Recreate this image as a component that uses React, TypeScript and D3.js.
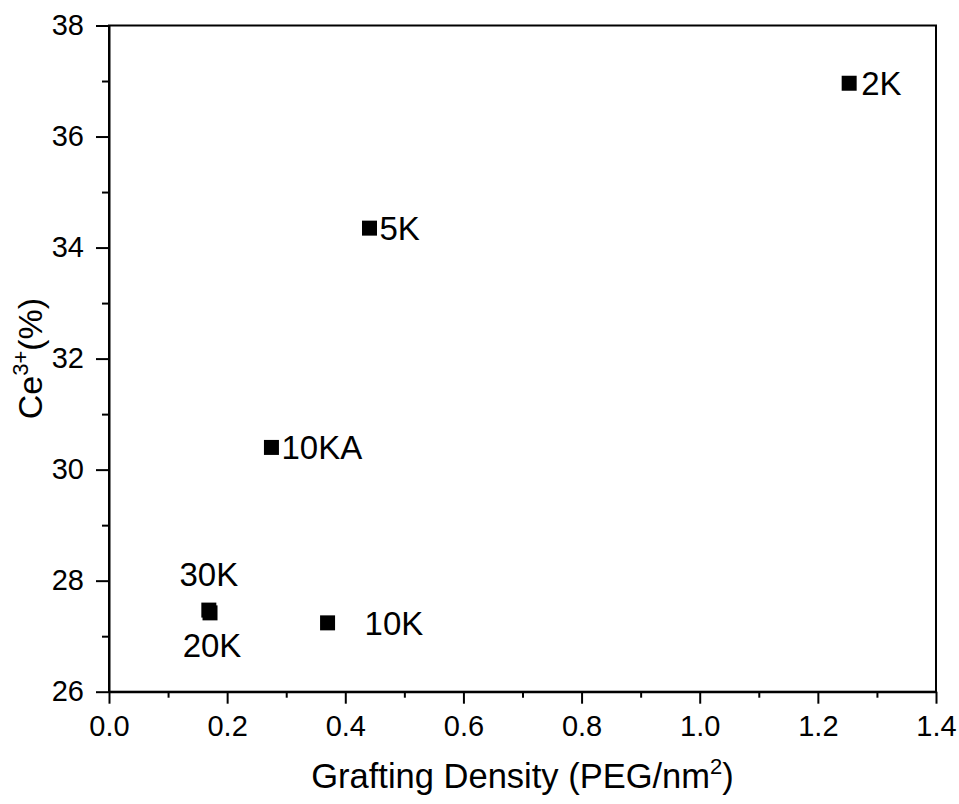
import React, { useEffect, useRef } from 'react';
import * as d3 from 'd3';

const samples = ['2K', '5K', '10KA', '30K', '20K', '10K'];
const density = [1.253, 0.441, 0.275, 0.169, 0.171, 0.37];
const ce3 = [36.96, 34.35, 30.4, 27.47, 27.42, 27.24];
const xTicks = [0, 0.2, 0.4, 0.6, 0.8, 1.0, 1.2, 1.4];
const yTicks = [26, 28, 30, 32, 34, 36, 38];

// where each label sits relative to its marker
const labelPos: Record<string, { dx: number; dy: number; anchor: string }> = {
    '2K': { dx: 12, dy: 0, anchor: 'start' },
    '5K': { dx: 10, dy: 0, anchor: 'start' },
    '10KA': { dx: 10, dy: 0, anchor: 'start' },
    '30K': { dx: 0, dy: -36, anchor: 'middle' },
    '20K': { dx: 2, dy: 32, anchor: 'middle' },
    '10K': { dx: 37, dy: 0, anchor: 'start' },
};

const W = 959;
const H = 804;
const margin = { left: 109, right: 23, top: 25.5, bottom: 112.3 };
const FONT = 'Arial, "Liberation Sans", sans-serif';

export default function App() {
    const ref = useRef<SVGSVGElement>(null);

    useEffect(() => {
        const svg = d3.select(ref.current);
        svg.selectAll('*').remove();
        const iw = W - margin.left - margin.right;
        const ih = H - margin.top - margin.bottom;

        const x = d3.scaleLinear().domain([0, 1.4]).range([0, iw]);
        const y = d3.scaleLinear().domain([26, 38]).range([ih, 0]);

        const g = svg.append('g').attr('transform', `translate(${margin.left},${margin.top})`);

        // minor ticks
        const xMinor = d3.range(0.1, 1.4, 0.2);
        const yMinor = d3.range(27, 38, 2);
        g.append('g')
            .attr('transform', `translate(0,${ih})`)
            .call(d3.axisBottom(x).tickValues(xMinor).tickSize(6).tickSizeOuter(0).tickFormat(() => ''))
            .call(a => a.select('.domain').remove());
        g.append('g')
            .call(d3.axisLeft(y).tickValues(yMinor).tickSize(7).tickSizeOuter(0).tickFormat(() => ''))
            .call(a => a.select('.domain').remove());

        const xAxis = g.append('g')
            .attr('transform', `translate(0,${ih})`)
            .call(d3.axisBottom(x).tickValues(xTicks).tickSize(12).tickPadding(12).tickSizeOuter(0).tickFormat(d3.format('.1f')));
        const yAxis = g.append('g')
            .call(d3.axisLeft(y).tickValues(yTicks).tickSize(13).tickPadding(12).tickSizeOuter(0));

        [xAxis, yAxis].forEach(a => {
            a.selectAll('text').attr('font-size', 29).attr('font-family', FONT).attr('fill', '#000');
        });
        g.selectAll('.tick line').attr('stroke', '#000').attr('stroke-width', 2);
        g.selectAll('.domain').attr('stroke', '#000').attr('stroke-width', 2);

        // frame
        g.append('rect')
            .attr('width', iw)
            .attr('height', ih)
            .attr('fill', 'none')
            .attr('stroke', '#000')
            .attr('stroke-width', 2);

        const data = samples.map((s, i) => ({ name: s, x: density[i], y: ce3[i] }));
        const sym = d3.symbol(d3.symbolSquare, 225);

        g.selectAll('path.pt')
            .data(data)
            .enter()
            .append('path')
            .attr('class', 'pt')
            .attr('d', sym)
            .attr('fill', '#000')
            .attr('transform', d => `translate(${x(d.x)},${y(d.y)})`);

        g.selectAll('text.lbl')
            .data(data)
            .enter()
            .append('text')
            .attr('class', 'lbl')
            .attr('x', d => x(d.x) + labelPos[d.name].dx)
            .attr('y', d => y(d.y) + labelPos[d.name].dy)
            .attr('dy', '0.36em')
            .attr('text-anchor', d => labelPos[d.name].anchor)
            .attr('font-size', 33)
            .attr('font-family', FONT)
            .text(d => d.name);

        // x title
        const xt = svg.append('text')
            .attr('x', margin.left + iw / 2)
            .attr('y', 788)
            .attr('text-anchor', 'middle')
            .attr('font-size', 34.5)
            .attr('font-family', FONT);
        xt.append('tspan').text('Grafting Density (PEG/nm');
        xt.append('tspan').attr('font-size', 22).attr('dy', -14).text('2');
        xt.append('tspan').attr('dy', 14).text(')');

        // y title
        const yt = svg.append('text')
            .attr('transform', `translate(42,${margin.top + ih / 2}) rotate(-90)`)
            .attr('text-anchor', 'middle')
            .attr('font-size', 34)
            .attr('font-family', FONT);
        yt.append('tspan').text('Ce');
        yt.append('tspan').attr('font-size', 22).attr('dy', -14).text('3+');
        yt.append('tspan').attr('dy', 14).text('(%)');
    }, []);

    return (
        <svg
            ref={ref}
            width={W}
            height={H}
            style={{ position: 'absolute', left: 0, top: 0, background: '#fff' }}
        />
    );
}
